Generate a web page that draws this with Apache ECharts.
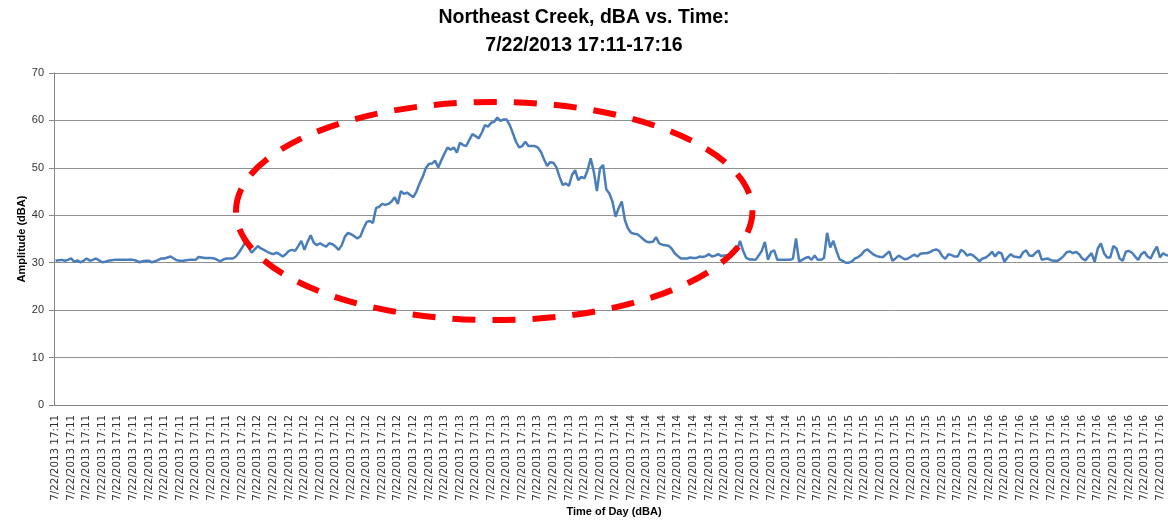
<!DOCTYPE html>
<html><head><meta charset="utf-8">
<script src="https://cdn.jsdelivr.net/npm/echarts@6/dist/echarts.min.js"></script>
<style>html,body{margin:0;padding:0;background:#fff}#c{width:1168px;height:520px}</style>
</head><body><div id="c"></div>
<script>
const titleLines = ['Northeast Creek, dBA vs. Time:', '7/22/2013 17:11-17:16'];
const yAxisName = 'Amplitude (dBA)';
const xAxisName = 'Time of Day (dBA)';
const minuteLabels = ['7/22/2013 17:11', '7/22/2013 17:12', '7/22/2013 17:13', '7/22/2013 17:14', '7/22/2013 17:15', '7/22/2013 17:16'];
const samplesPerMinute = 60;
const yMin = 0, yMax = 70, yStep = 10;

const dba1711 = [30.4,30.5,30.6,30.4,30.6,30.9,30.2,30.5,30.1,30.4,
30.9,30.4,30.6,30.9,30.5,30.1,30.2,30.4,30.5,30.6,
30.6,30.6,30.6,30.6,30.7,30.6,30.4,30.1,30.3,30.4,
30.4,30.1,30.3,30.6,30.9,30.9,31.1,31.3,30.9,30.5,
30.4,30.4,30.5,30.6,30.6,30.6,31.2,31.1,31.0,31.0,
31.0,30.9,30.6,30.3,30.7,30.9,30.9,30.9,31.3,32.2];
const dba1712 = [33.2,34.4,33.4,32.1,32.8,33.5,33.0,32.7,32.3,32.0,
31.8,32.1,31.8,31.3,31.8,32.5,32.7,32.5,33.5,34.6,
32.7,34.4,35.8,34.2,33.7,34.1,33.7,33.4,34.1,33.9,
33.4,32.7,33.7,35.5,36.3,36.0,35.6,35.1,35.6,37.2,
38.6,38.8,38.4,41.5,41.8,42.4,42.2,42.4,42.9,43.8,
42.4,45.1,44.5,44.8,44.3,43.8,45.0,46.7,48.1,49.9];
const dba1713 = [50.8,50.9,51.5,50.1,51.6,53.0,54.3,53.8,54.3,53.2,
55.3,54.8,54.6,55.9,57.1,56.7,56.2,57.4,59.0,58.7,
59.5,59.7,60.6,59.9,60.2,60.2,59.0,57.3,55.5,54.3,
54.6,55.5,54.6,54.6,54.6,54.3,53.4,51.8,50.4,51.2,
51.1,50.1,48.1,46.4,46.7,46.2,48.5,49.5,47.4,48.1,
47.8,49.5,52.0,49.2,45.1,49.9,50.6,45.5,44.6,42.9];
const dba1714 = [39.7,41.5,42.9,39.0,37.2,36.3,36.1,36.0,35.5,34.9,
34.4,34.3,34.4,35.4,34.1,33.8,33.7,33.6,33.0,32.0,
31.4,30.9,30.9,30.9,31.1,31.0,31.0,31.3,31.2,31.4,
31.8,31.3,31.5,31.8,31.4,31.5,31.6,31.5,32.0,32.5,
34.6,32.5,31.0,30.7,30.7,30.6,31.5,32.5,34.4,30.6,
32.3,32.6,30.6,30.6,30.6,30.6,30.6,30.8,35.1,30.2];
const dba1715 = [30.6,31.0,31.2,30.6,31.5,30.6,30.6,31.0,36.3,33.2,
34.6,32.5,30.7,30.4,30.0,30.0,30.3,30.9,31.2,31.7,
32.5,32.8,32.2,31.7,31.4,31.2,31.2,31.8,32.4,30.4,
30.9,31.5,31.1,30.7,30.9,31.3,31.7,31.3,31.9,32.0,
32.0,32.2,32.6,32.8,32.5,31.4,30.8,31.8,31.6,31.3,
31.3,32.7,32.3,31.5,31.8,31.5,30.9,30.3,30.9,31.1];
const dba1716 = [31.6,32.3,31.3,32.2,32.0,30.2,31.1,31.8,31.3,31.2,
31.1,32.2,32.6,31.5,31.4,32.1,32.6,30.6,30.8,30.9,
30.5,30.4,30.4,30.8,31.4,32.2,32.4,32.0,32.3,31.8,
30.9,30.5,31.3,32.0,30.2,33.0,34.1,32.0,31.1,31.1,
33.5,33.0,30.9,30.4,32.3,32.5,32.1,31.3,30.6,31.8,
32.3,31.3,30.9,32.3,33.4,31.1,32.0,31.6,31.5,31.4];

// highlight ring annotation, in data units (category index / dBA)
const ringCenterIndex = 141, ringCenterValue = 40.9, ringHalfIndex = 83, ringHalfValue = 23;

const dba = [].concat(dba1711, dba1712, dba1713, dba1714, dba1715, dba1716);
const categories = [];
minuteLabels.forEach(function (m) { for (let k = 0; k < samplesPerMinute; k++) categories.push(m); });

const gray = '#878787';
const chart = echarts.init(document.getElementById('c'));
chart.setOption({
  animation: false,
  backgroundColor: '#fff',
  title: {
    text: titleLines.join('\n'),
    left: 'center', top: 4, padding: [0, 0, 0, 22],
    textStyle: { fontFamily: 'Liberation Sans', fontWeight: 'bold', fontSize: 19.5, lineHeight: 28, color: '#000' }
  },
  grid: { left: 54, top: 73, width: 1120, height: 332, outerBoundsMode: 'none', containLabel: false },
  xAxis: {
    type: 'category', data: categories, boundaryGap: true,
    axisLine: { lineStyle: { color: gray, width: 1 } },
    axisTick: { interval: 0, length: 4, lineStyle: { color: gray } },
    axisLabel: { interval: 4, rotate: 90, fontFamily: 'DejaVu Sans', fontSize: 10.3, color: '#333', margin: 10 },
    name: xAxisName, nameLocation: 'middle', nameGap: 101, nameMoveOverlap: false,
    nameTextStyle: { fontFamily: 'Liberation Sans', fontWeight: 'bold', fontSize: 11, color: '#000' }
  },
  yAxis: {
    type: 'value', min: yMin, max: yMax, interval: yStep,
    axisLine: { show: true, lineStyle: { color: gray, width: 1 } },
    axisTick: { show: true, length: 5, lineStyle: { color: gray } },
    axisLabel: { fontFamily: 'Liberation Sans', fontSize: 11, color: '#333', margin: 10 },
    splitLine: { lineStyle: { color: '#8f8f8f', width: 1 } },
    name: yAxisName, nameLocation: 'middle', nameGap: 27, nameMoveOverlap: false,
    nameTextStyle: { fontFamily: 'Liberation Sans', fontWeight: 'bold', fontSize: 11, color: '#000' }
  },
  series: [{
    type: 'line', data: dba, showSymbol: false, symbol: 'none',
    lineStyle: { color: '#4A7EBB', width: 2.5 }, z: 3
  }]
});
const c0 = chart.convertToPixel({ gridIndex: 0 }, [ringCenterIndex, ringCenterValue]);
const c1 = chart.convertToPixel({ gridIndex: 0 }, [ringCenterIndex + ringHalfIndex, ringCenterValue + ringHalfValue]);
chart.setOption({
  graphic: [{
    type: 'ellipse', z: 100,
    shape: { cx: c0[0], cy: c0[1], rx: Math.abs(c1[0] - c0[0]), ry: Math.abs(c0[1] - c1[1]) },
    style: { fill: 'none', stroke: '#FF0000', lineWidth: 6, lineDash: [23, 17] }
  }]
});
</script></body></html>
